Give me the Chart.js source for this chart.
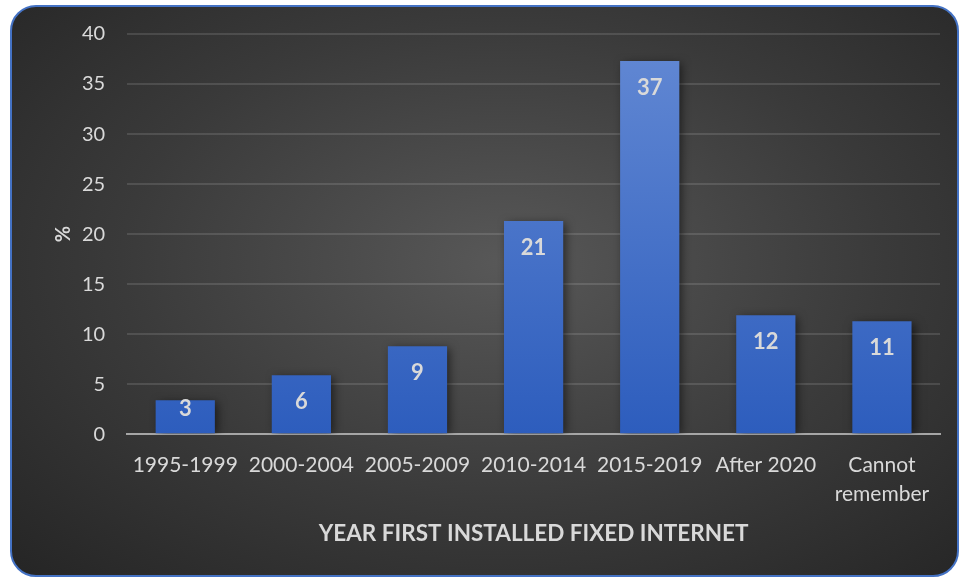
<!DOCTYPE html>
<html>
<head>
<meta charset="utf-8">
<script src="https://cdn.jsdelivr.net/npm/chart.js@4"></script>
<style>
  html, body { margin: 0; padding: 0; background: #ffffff; }
  #frame {
    position: absolute; left: 10px; top: 5px; width: 949px; height: 572px;
    box-sizing: border-box; border: 2px solid #4472c4; border-radius: 26px;
    background: radial-gradient(ellipse at 52% 45%, #585858 0%, #3a3a3a 55%, #252525 100%);
  }
  #chart { position: absolute; left: 0; top: 0; }
</style>
</head>
<body>
<div id="frame"></div>
<canvas id="chart" width="959" height="579"></canvas>
<script>
const year_labels = ["1995-1999", "2000-2004", "2005-2009", "2010-2014", "2015-2019", "After 2020", ["Cannot", "remember"]];
const pct_values = [3.4, 5.9, 8.8, 21.3, 37.3, 11.9, 11.3];
const y_ticks = [0, 5, 10, 15, 20, 25, 30, 35, 40];

const text_color = "#d9d9d9";
const font_family = "Lato, 'Open Sans', sans-serif";

// bar shadows + value labels
const bar_label_plugin = {
  id: "bar_labels",
  beforeDatasetsDraw(chart) {
    const ctx = chart.ctx;
    ctx.save();
    ctx.shadowColor = "rgba(0,0,0,0.55)";
    ctx.shadowBlur = 9;
    ctx.shadowOffsetX = 3;
    ctx.shadowOffsetY = 2;
  },
  afterDatasetsDraw(chart) {
    const ctx = chart.ctx;
    ctx.restore();
    const meta = chart.getDatasetMeta(0);
    ctx.save();
    ctx.fillStyle = text_color;
    ctx.font = "bold 22px " + font_family;
    ctx.textAlign = "center";
    ctx.textBaseline = "middle";
    meta.data.forEach((bar, i) => {
      // keep label inside short bars
      const y = Math.min(bar.y + 27, bar.base - 24);
      ctx.fillText(Math.round(pct_values[i]), bar.x, y);
    });
    ctx.restore();
  },
};

const ctx = document.getElementById("chart");

const chart = new Chart(ctx, {
  type: "bar",
  data: {
    labels: year_labels,
    datasets: [
      {
        data: pct_values,
        categoryPercentage: 1.0,
        barPercentage: 0.51,
        backgroundColor: (c) => {
          const area = c.chart.chartArea;
          if (!area) return "#4472c4";
          const g = c.chart.ctx.createLinearGradient(0, area.top, 0, area.bottom);
          g.addColorStop(0, "#6389d4");
          g.addColorStop(1, "#2d5dbd");
          return g;
        },
      },
    ],
  },
  options: {
    responsive: false,
    animation: false,
    layout: { padding: { left: 52, right: 19, top: 24, bottom: 32 } },
    plugins: {
      legend: { display: false },
      tooltip: { enabled: false },
    },
    scales: {
      x: {
        grid: { display: false },
        border: { display: true, color: "#a6a6a6", width: 2 },
        ticks: {
          color: text_color,
          font: { family: font_family, size: 21, lineHeight: 1.4 },
          maxRotation: 0,
          autoSkip: false,
          padding: 8,
        },
        title: {
          display: true,
          text: "YEAR FIRST INSTALLED FIXED INTERNET",
          color: text_color,
          font: { family: font_family, size: 22.5, weight: "bold" },
          padding: { top: 3, bottom: 0 },
        },
      },
      y: {
        min: 0,
        max: 40,
        afterBuildTicks: (axis) => {
          axis.ticks = y_ticks.map((v) => ({ value: v }));
        },
        grid: {
          color: (c) => (c.tick && c.tick.value === 0 ? "rgba(0,0,0,0)" : "rgba(255,255,255,0.12)"),
          lineWidth: 2,
          drawTicks: false,
        },
        border: { display: false },
        ticks: {
          color: text_color,
          font: { family: font_family, size: 20 },
          padding: 22,
        },
        title: {
          display: true,
          text: "%",
          color: text_color,
          font: { family: font_family, size: 20, weight: "bold" },
          padding: { top: 0, bottom: -16 },
        },
      },
    },
  },
  plugins: [bar_label_plugin],
});
</script>
</body>
</html>
